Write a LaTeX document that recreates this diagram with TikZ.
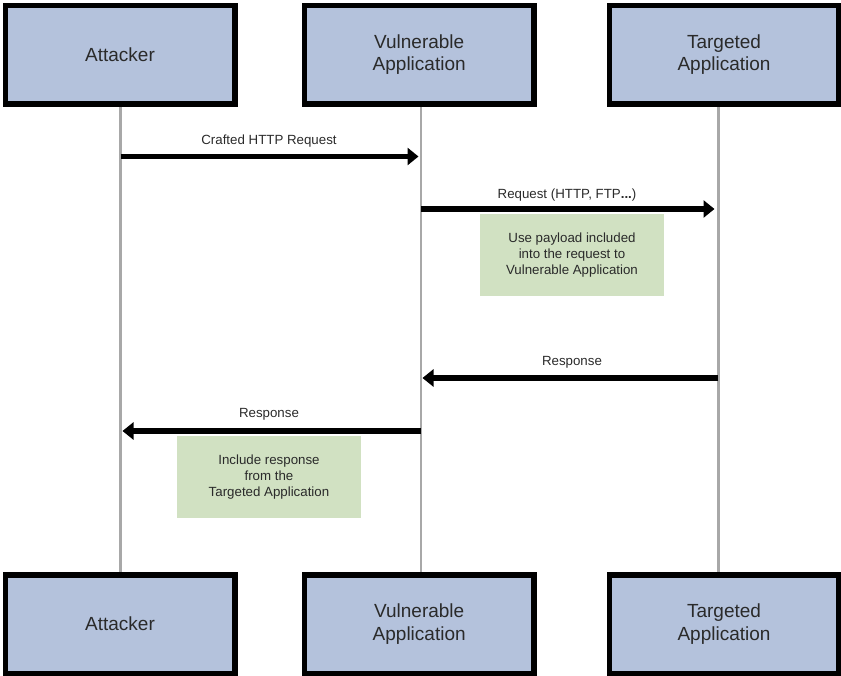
\documentclass[tikz,border=0pt]{standalone}
\usepackage{fontspec}
\setmainfont{Liberation Sans}
\usetikzlibrary{arrows.meta}
\definecolor{boxblue}{HTML}{B4C2DC}
\definecolor{notegreen}{HTML}{D1E1C2}
\definecolor{lifegray}{HTML}{A8A8A8}
\definecolor{txt}{HTML}{2A2A2A}
\begin{document}
\begin{tikzpicture}[x=1pt,y=-1pt,
  actor/.style={draw=black,line width=5.5pt,fill=boxblue,minimum width=229.5pt,minimum height=98.5pt,inner sep=0pt,align=center,font=\fontsize{19}{22.3}\selectfont,text=txt},
  note/.style={fill=notegreen,minimum width=184pt,minimum height=82pt,inner sep=0pt,align=center,font=\fontsize{13.3}{16}\selectfont,text=txt},
  msg/.style={line width=5.5pt,-{Triangle[length=11pt,width=17pt]}},
  lbl/.style={anchor=base,inner sep=0pt,font=\fontsize{13.3}{16}\selectfont,text=txt},
  life/.style={draw=lifegray,line width=2.5pt}]
\useasboundingbox (0,0) rectangle (841,676);
% lifeline end points
\coordinate (LaT) at (120.5,100);  \coordinate (LaB) at (120.5,580);
\coordinate (LvT) at (421,100);    \coordinate (LvB) at (421,580);
\coordinate (LtT) at (718.3,100);  \coordinate (LtB) at (718.3,580);
\draw[life] (LaT) -- (LaB);
\draw[life] (LvT) -- (LvB);
\draw[life] (LtT) -- (LtB);
% participants
\node[actor] (atkT) at (120,54.9) {Attacker};
\node[actor] (vulT) at (419.2,54.9) {Vulnerable\\Application};
\node[actor] (tgtT) at (724,54.9) {Targeted\\Application};
\node[actor] (atkB) at (120,624.2) {Attacker};
\node[actor] (vulB) at (419.2,624.2) {Vulnerable\\Application};
\node[actor] (tgtB) at (724,624.2) {Targeted\\Application};
% notes
\node[note] (n1) at (572,255) {Use payload included\\into the request to\\Vulnerable Application};
\node[note] (n2) at (269,477) {Include response\\from the\\Targeted Application};
% message end points
\coordinate (a1) at (120.5,156.5); \coordinate (v1) at (418.5,156.5);
\coordinate (v2) at (421,209);     \coordinate (t2) at (714.5,209);
\coordinate (t3) at (718.3,378);   \coordinate (v3) at (422.5,378);
\coordinate (v4) at (421,431);     \coordinate (a4) at (122.5,431);
\draw[msg] (a1) -- (v1);
\draw[msg] (v2) -- (t2);
\draw[msg] (t3) -- (v3);
\draw[msg] (v4) -- (a4);
% labels
\node[lbl] (l1) at (269,144.8) {Crafted HTTP Request};
\node[lbl] (l2) at (567,198.3) {Request (HTTP, FTP\textbf{...})};
\node[lbl] (l3) at (572,366) {Response};
\node[lbl] (l4) at (269,417.7) {Response};
\end{tikzpicture}
\end{document}
